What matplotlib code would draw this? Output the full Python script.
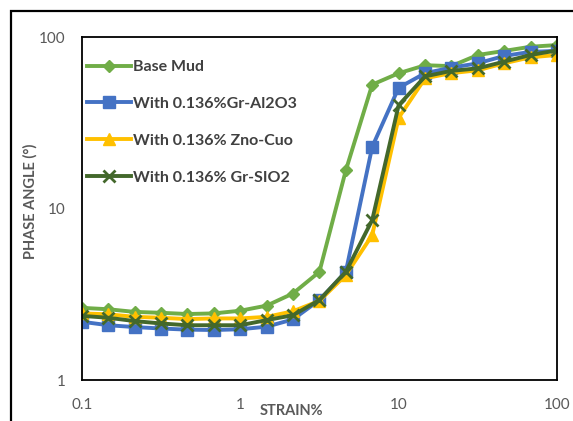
import matplotlib
matplotlib.use("Agg")
import matplotlib.pyplot as plt
from matplotlib.patches import Rectangle
from matplotlib.ticker import FixedLocator, FixedFormatter, NullLocator

plt.rcParams['font.family'] = ['Lato', 'DejaVu Sans']

strain = [0.1, 0.147, 0.215, 0.316, 0.464, 0.681, 1.0, 1.47, 2.15, 3.16,
          4.64, 6.81, 10.0, 14.7, 21.5, 31.6, 46.4, 68.1, 100.0]

base_mud = [2.64, 2.59, 2.50, 2.47, 2.43, 2.45, 2.54, 2.72, 3.2, 4.28,
            16.7, 52.8, 61.5, 68.5, 67.7, 78.6, 83.0, 87.8, 89.8]
gr_al2o3 = [2.19, 2.09, 2.04, 2.00, 1.97, 1.96, 1.98, 2.05, 2.26, 2.93,
            4.28, 22.9, 50.6, 61.6, 66.3, 70.3, 77.6, 82.0, 83.0]
zno_cuo = [2.45, 2.42, 2.34, 2.31, 2.27, 2.29, 2.29, 2.34, 2.52, 2.9,
           4.1, 7.0, 33.8, 57.5, 61.6, 64.0, 70.3, 76.2, 78.6]
gr_sio2 = [2.37, 2.31, 2.21, 2.14, 2.09, 2.09, 2.09, 2.24, 2.39, 2.93,
           4.28, 8.57, 40.0, 59.0, 63.5, 65.7, 71.9, 78.6, 83.6]

labels = ["Base Mud", "With 0.136%Gr-Al2O3", "With 0.136% Zno-Cuo", "With 0.136% Gr-SIO2"]
colors = ["#70AD47", "#4472C4", "#FFC000", "#43682B"]
markers = ["D", "s", "^", "x"]
msizes = [6.5, 9, 8, 8.5]

fig = plt.figure(figsize=(5.73, 4.21), dpi=100)
ax = fig.add_axes([0.143, 0.097, 0.829, 0.815])

# outer chart border (cut off at right and bottom, like the screenshot)
fig.patches.append(Rectangle((11 / 573, -0.2), 1.5, 1.2 - 11 / 421,
                             transform=fig.transFigure, fill=False,
                             edgecolor="black", linewidth=1.6, zorder=0))

for ys, lab, c, m, ms in zip([base_mud, gr_al2o3, zno_cuo, gr_sio2],
                             labels, colors, markers, msizes):
    ax.plot(strain, ys, color=c, marker=m, markersize=ms, linewidth=2.8,
            markeredgewidth=2.0 if m == "x" else 1, label=lab)

ax.set_xscale("log")
ax.set_yscale("log")
ax.set_xlim(0.1, 100)
ax.set_ylim(1, 100)

ax.xaxis.set_major_locator(FixedLocator([0.1, 1, 10, 100]))
ax.xaxis.set_major_formatter(FixedFormatter(["0.1", "1", "10", "100"]))
ax.yaxis.set_major_locator(FixedLocator([1, 10, 100]))
ax.yaxis.set_major_formatter(FixedFormatter(["1", "10", "100"]))
ax.xaxis.set_minor_locator(NullLocator())
ax.yaxis.set_minor_locator(NullLocator())
ax.tick_params(axis="x", length=0, pad=13, labelsize=11, labelcolor="#595959")
ax.tick_params(axis="y", length=0, pad=12, labelsize=11, labelcolor="#595959")

for s in ax.spines.values():
    s.set_color("black")
    s.set_linewidth(1.3)

fig.text(291 / 573, 10 / 421, "STRAIN%", ha="center", va="center",
         fontsize=10.5, fontweight="bold", color="#595959")
fig.text(30 / 573, 1 - 201 / 421, "PHASE ANGLE (°)", ha="center", va="center",
         rotation=90, fontsize=10.5, fontweight="bold", color="#595959")

leg = ax.legend(loc="upper left", bbox_to_anchor=(-0.02, 0.975), frameon=False,
                handlelength=2.75, labelspacing=1.42, handletextpad=0.15,
                prop={"size": 11.5, "weight": "bold"})
for t in leg.get_texts():
    t.set_color("#404040")

fig.savefig("out.png", dpi=100)
